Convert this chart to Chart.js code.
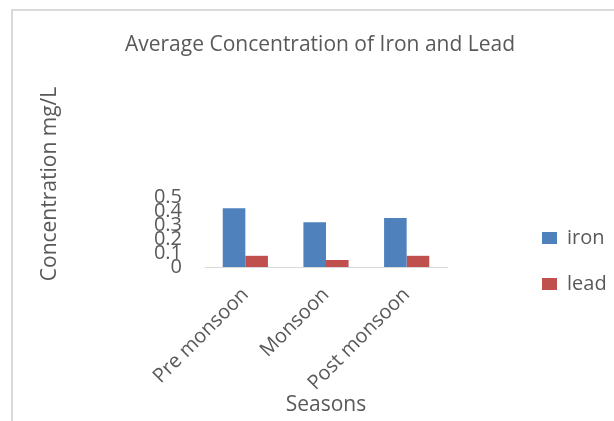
<!DOCTYPE html>
<html>
<head>
<meta charset="utf-8">
<script src="https://cdn.jsdelivr.net/npm/chart.js@4"></script>
<style>
  html, body { margin: 0; padding: 0; background: #fff; }
  #wrap { width: 614px; height: 421px; }
</style>
</head>
<body>
<div id="wrap"><canvas id="grafico"></canvas></div>
<script>
// dados
const seasons = ['Pre monsoon', 'Monsoon', 'Post monsoon'];
const iron = [0.42, 0.32, 0.35];
const lead = [0.08, 0.05, 0.08];
const yTicks = [0, 0.1, 0.2, 0.3, 0.4, 0.5];

const cinza = '#595959';
const fonte = "'Open Sans', sans-serif";

// moldura cinza clara (canto superior esquerdo do quadro do Excel)
const moldura = {
    id: 'moldura',
    beforeDraw(chart) {
        const ctx = chart.ctx;
        ctx.save();
        ctx.strokeStyle = '#d9d9d9';
        ctx.lineWidth = 2;
        ctx.beginPath();
        ctx.moveTo(12, chart.height);
        ctx.lineTo(12, 10);
        ctx.lineTo(chart.width, 10);
        ctx.stroke();
        ctx.restore();
    }
};

// título do eixo Y fica mais alto que o centro da área do gráfico
const tituloY = {
    id: 'tituloY',
    afterDraw(chart) {
        const ctx = chart.ctx;
        ctx.save();
        ctx.translate(50, 184);
        ctx.rotate(-Math.PI / 2);
        ctx.font = "21px " + fonte;
        ctx.fillStyle = cinza;
        ctx.textAlign = 'center';
        ctx.textBaseline = 'middle';
        ctx.fillText('Concentration mg/L', 0, 0);
        ctx.restore();
    }
};

new Chart(document.getElementById('grafico'), {
    type: 'bar',
    data: {
        labels: seasons,
        datasets: [
            { label: 'iron', data: iron, backgroundColor: '#4f81bd' },
            { label: 'lead', data: lead, backgroundColor: '#c0504d' }
        ]
    },
    options: {
        responsive: true,
        maintainAspectRatio: false,
        animation: false,
        layout: { padding: { left: 26, top: 0, right: 0, bottom: 0 } },
        datasets: {
            bar: { categoryPercentage: 0.56, barPercentage: 1 }
        },
        plugins: {
            title: {
                display: true,
                text: 'Average Concentration of Iron and Lead',
                color: cinza,
                font: { size: 21, family: fonte, weight: 'normal' },
                padding: { top: 32.4, bottom: 139.4 }
            },
            legend: {
                position: 'right',
                title: { display: true, text: '', font: { size: 10 }, padding: { top: 89, bottom: 0 } },
                labels: {
                    boxWidth: 15,
                    boxHeight: 12,
                    padding: 26,
                    color: cinza,
                    font: { size: 20, family: fonte }
                }
            },
            tooltip: { enabled: false }
        },
        scales: {
            x: {
                grid: { display: false, drawTicks: false },
                border: { display: true, color: '#d9d9d9', width: 1 },
                ticks: {
                    color: cinza,
                    font: { size: 20, family: fonte },
                    minRotation: 45,
                    maxRotation: 45,
                    padding: 16
                },
                title: {
                    display: true,
                    text: 'Seasons',
                    color: cinza,
                    font: { size: 21, family: fonte },
                    padding: { top: 0, bottom: 3.4 }
                },
                afterFit(scale) { scale.height = 154; }
            },
            y: {
                min: yTicks[0],
                max: yTicks[yTicks.length - 1],
                grid: { display: false, drawTicks: false },
                border: { display: false },
                afterBuildTicks(scale) { scale.ticks = yTicks.map(v => ({ value: v })); },
                ticks: {
                    autoSkip: false,
                    color: cinza,
                    font: { size: 20, family: fonte },
                    padding: 23
                },
                afterFit(scale) { scale.width = 179; }
            },
            // eixo vazio só para reservar o espaço entre o gráfico e a legenda
            espaco: {
                axis: 'y',
                position: 'right',
                display: true,
                grid: { display: false, drawTicks: false },
                border: { display: false },
                ticks: { display: false },
                afterFit(scale) { scale.width = 69; }
            }
        }
    },
    plugins: [moldura, tituloY]
});
</script>
</body>
</html>
